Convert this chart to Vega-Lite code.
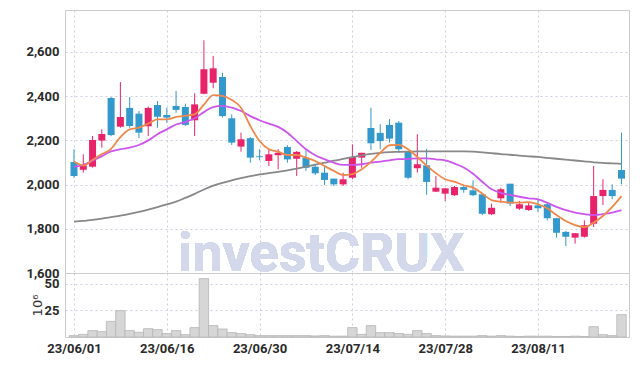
{
  "$schema": "https://vega.github.io/schema/vega-lite/v6.json",
  "padding": {"left": 25, "top": 9, "right": 5, "bottom": 5},
  "background": "white",
  "spacing": 0,
  "bounds": "flush",
  "config": {
    "view": {"stroke": "#cccccc", "strokeWidth": 1},
    "axis": {
      "labelFont": "Roboto",
      "labelFontSize": 13,
      "labelFontWeight": "bold",
      "labelColor": "#2a2a2a",
      "gridColor": "#cdd0e2",
      "gridDash": [2, 3],
      "gridWidth": 1,
      "ticks": false,
      "domain": false
    }
  },
  "datasets": {
    "d": [
      {"i":0,"date":"23/06/01","o":2102,"h":2160,"l":2031,"c":2039,"v":1.3,"m1":2104,"m2":2080,"m3":1832},
      {"i":1,"date":"23/06/02","o":2067,"h":2137,"l":2054,"c":2087,"v":2.5,"m1":2086,"m2":2089,"m3":1836},
      {"i":2,"date":"23/06/05","o":2081,"h":2220,"l":2077,"c":2202,"v":6,"m1":2112,"m2":2108,"m3":1840},
      {"i":3,"date":"23/06/07","o":2199,"h":2250,"l":2167,"c":2229,"v":5,"m1":2138,"m2":2129,"m3":1846},
      {"i":4,"date":"23/06/08","o":2392,"h":2396,"l":2219,"c":2224,"v":14.7,"m1":2162,"m2":2150,"m3":1853},
      {"i":5,"date":"23/06/09","o":2262,"h":2464,"l":2257,"c":2306,"v":24.7,"m1":2215,"m2":2160,"m3":1860},
      {"i":6,"date":"23/06/12","o":2347,"h":2396,"l":2257,"c":2265,"v":6,"m1":2250,"m2":2167,"m3":1868},
      {"i":7,"date":"23/06/13","o":2321,"h":2333,"l":2210,"c":2235,"v":4.4,"m1":2258,"m2":2179,"m3":1877},
      {"i":8,"date":"23/06/14","o":2264,"h":2353,"l":2220,"c":2347,"v":7.8,"m1":2276,"m2":2200,"m3":1887},
      {"i":9,"date":"23/06/15","o":2360,"h":2378,"l":2257,"c":2307,"v":6.9,"m1":2295,"m2":2228,"m3":1898},
      {"i":10,"date":"23/06/16","o":2315,"h":2348,"l":2280,"c":2303,"v":3.2,"m1":2295,"m2":2250,"m3":1910},
      {"i":11,"date":"23/06/19","o":2356,"h":2424,"l":2325,"c":2338,"v":6,"m1":2306,"m2":2272,"m3":1923},
      {"i":12,"date":"23/06/20","o":2351,"h":2366,"l":2265,"c":2270,"v":2.2,"m1":2312,"m2":2283,"m3":1940},
      {"i":13,"date":"23/06/21","o":2291,"h":2413,"l":2220,"c":2363,"v":8.8,"m1":2318,"m2":2300,"m3":1958},
      {"i":14,"date":"23/06/22","o":2411,"h":2653,"l":2409,"c":2522,"v":54.7,"m1":2362,"m2":2328,"m3":1978},
      {"i":15,"date":"23/06/23","o":2461,"h":2582,"l":2436,"c":2526,"v":10.7,"m1":2405,"m2":2351,"m3":1995},
      {"i":16,"date":"23/06/26","o":2487,"h":2506,"l":2303,"c":2310,"v":7.5,"m1":2401,"m2":2356,"m3":2008},
      {"i":17,"date":"23/06/27","o":2300,"h":2318,"l":2179,"c":2190,"v":4.1,"m1":2383,"m2":2348,"m3":2019},
      {"i":18,"date":"23/06/28","o":2172,"h":2235,"l":2149,"c":2205,"v":3.2,"m1":2348,"m2":2333,"m3":2029},
      {"i":19,"date":"23/06/29","o":2210,"h":2215,"l":2099,"c":2122,"v":2.2,"m1":2265,"m2":2310,"m3":2038},
      {"i":20,"date":"23/06/30","o":2128,"h":2160,"l":2110,"c":2124,"v":1.3,"m1":2197,"m2":2291,"m3":2046},
      {"i":21,"date":"23/07/03","o":2107,"h":2160,"l":2084,"c":2137,"v":1.3,"m1":2160,"m2":2276,"m3":2052},
      {"i":22,"date":"23/07/04","o":2133,"h":2160,"l":2069,"c":2144,"v":1.3,"m1":2149,"m2":2261,"m3":2058},
      {"i":23,"date":"23/07/05","o":2170,"h":2178,"l":2099,"c":2114,"v":1.3,"m1":2134,"m2":2235,"m3":2064},
      {"i":24,"date":"23/07/06","o":2117,"h":2152,"l":2039,"c":2148,"v":1.3,"m1":2134,"m2":2197,"m3":2072},
      {"i":25,"date":"23/07/07","o":2122,"h":2155,"l":2062,"c":2076,"v":1.3,"m1":2122,"m2":2160,"m3":2081},
      {"i":26,"date":"23/07/10","o":2081,"h":2092,"l":2043,"c":2051,"v":1,"m1":2107,"m2":2133,"m3":2090},
      {"i":27,"date":"23/07/11","o":2054,"h":2084,"l":1998,"c":2021,"v":1.3,"m1":2084,"m2":2115,"m3":2099},
      {"i":28,"date":"23/07/12","o":2027,"h":2027,"l":1994,"c":2001,"v":0.8,"m1":2062,"m2":2099,"m3":2108},
      {"i":29,"date":"23/07/13","o":2001,"h":2054,"l":1994,"c":2024,"v":0.8,"m1":2043,"m2":2089,"m3":2116},
      {"i":30,"date":"23/07/14","o":2031,"h":2182,"l":2024,"c":2125,"v":8.8,"m1":2047,"m2":2089,"m3":2124},
      {"i":31,"date":"23/07/17","o":2122,"h":2144,"l":2076,"c":2144,"v":2.5,"m1":2069,"m2":2092,"m3":2132},
      {"i":32,"date":"23/07/18","o":2256,"h":2348,"l":2157,"c":2187,"v":10.7,"m1":2103,"m2":2099,"m3":2139},
      {"i":33,"date":"23/07/19","o":2234,"h":2273,"l":2160,"c":2197,"v":4.1,"m1":2144,"m2":2104,"m3":2144},
      {"i":34,"date":"23/07/20","o":2270,"h":2296,"l":2190,"c":2208,"v":4.1,"m1":2178,"m2":2110,"m3":2147},
      {"i":35,"date":"23/07/21","o":2280,"h":2288,"l":2144,"c":2160,"v":3.2,"m1":2180,"m2":2115,"m3":2148},
      {"i":36,"date":"23/07/24","o":2148,"h":2152,"l":2024,"c":2031,"v":2.5,"m1":2160,"m2":2116,"m3":2149},
      {"i":37,"date":"23/07/25","o":2074,"h":2228,"l":2054,"c":2092,"v":6,"m1":2125,"m2":2119,"m3":2150},
      {"i":38,"date":"23/07/26","o":2087,"h":2162,"l":1954,"c":2012,"v":3.2,"m1":2086,"m2":2119,"m3":2150},
      {"i":39,"date":"23/07/27","o":1968,"h":2039,"l":1967,"c":1986,"v":1.3,"m1":2052,"m2":2114,"m3":2150},
      {"i":40,"date":"23/07/28","o":1959,"h":1983,"l":1926,"c":1983,"v":1,"m1":2024,"m2":2110,"m3":2150},
      {"i":41,"date":"23/07/31","o":1952,"h":1994,"l":1948,"c":1989,"v":0.8,"m1":2013,"m2":2095,"m3":2150},
      {"i":42,"date":"23/08/01","o":1989,"h":1994,"l":1963,"c":1976,"v":0.8,"m1":1997,"m2":2077,"m3":2150},
      {"i":43,"date":"23/08/02","o":1974,"h":2019,"l":1948,"c":1952,"v":0.8,"m1":1986,"m2":2049,"m3":2149},
      {"i":44,"date":"23/08/03","o":1956,"h":1963,"l":1862,"c":1868,"v":1.3,"m1":1959,"m2":2013,"m3":2146},
      {"i":45,"date":"23/08/04","o":1866,"h":1914,"l":1862,"c":1895,"v":0.8,"m1":1930,"m2":1979,"m3":2142},
      {"i":46,"date":"23/08/07","o":1938,"h":1986,"l":1918,"c":1979,"v":1.3,"m1":1923,"m2":1963,"m3":2138},
      {"i":47,"date":"23/08/08","o":2004,"h":2004,"l":1903,"c":1914,"v":0.8,"m1":1918,"m2":1953,"m3":2135},
      {"i":48,"date":"23/08/09","o":1891,"h":1926,"l":1885,"c":1911,"v":0.5,"m1":1918,"m2":1945,"m3":2131},
      {"i":49,"date":"23/08/10","o":1885,"h":1921,"l":1881,"c":1906,"v":0.8,"m1":1921,"m2":1938,"m3":2128},
      {"i":50,"date":"23/08/11","o":1906,"h":1936,"l":1877,"c":1893,"v":0.8,"m1":1911,"m2":1933,"m3":2125},
      {"i":51,"date":"23/08/14","o":1911,"h":1918,"l":1838,"c":1848,"v":0.8,"m1":1893,"m2":1918,"m3":2121},
      {"i":52,"date":"23/08/16","o":1848,"h":1850,"l":1760,"c":1782,"v":0.5,"m1":1862,"m2":1899,"m3":2117},
      {"i":53,"date":"23/08/17","o":1786,"h":1790,"l":1722,"c":1764,"v":0.5,"m1":1835,"m2":1884,"m3":2113},
      {"i":54,"date":"23/08/18","o":1760,"h":1780,"l":1733,"c":1780,"v":0.8,"m1":1817,"m2":1873,"m3":2109},
      {"i":55,"date":"23/08/21","o":1764,"h":1838,"l":1760,"c":1816,"v":0.5,"m1":1808,"m2":1866,"m3":2105},
      {"i":56,"date":"23/08/22","o":1823,"h":2084,"l":1808,"c":1948,"v":9.7,"m1":1828,"m2":1862,"m3":2101},
      {"i":57,"date":"23/08/23","o":1948,"h":2024,"l":1908,"c":1976,"v":2.2,"m1":1858,"m2":1866,"m3":2098},
      {"i":58,"date":"23/08/24","o":1976,"h":2001,"l":1934,"c":1948,"v":1.3,"m1":1899,"m2":1873,"m3":2096},
      {"i":59,"date":"23/08/25","o":2066,"h":2235,"l":2001,"c":2027,"v":21,"m1":1948,"m2":1884,"m3":2094}
    ]
  },
  "vconcat": [
    {
      "width": 564,
      "height": 263,
      "data": {"name": "d"},
      "encoding": {
        "x": {
          "field": "i", "type": "quantitative",
          "scale": {"domain": [-0.43, 59.27], "nice": false, "zero": false},
          "axis": {"values": [0, 10, 20, 30, 40, 50], "labels": false, "title": null, "grid": true}
        }
      },
      "layer": [
        {
          "mark": {"type": "text", "text": "investCRUX", "align": "left", "baseline": "alphabetic", "font": "Roboto", "fontWeight": "bold", "fontSize": 54, "color": "#d3d8ea"},
          "encoding": {
            "x": {"datum": 11.2, "type": "quantitative"},
            "y": {"datum": 1608, "type": "quantitative"}
          }
        },
        {
          "mark": {"type": "rule", "strokeWidth": 1},
          "encoding": {
            "y": {
              "field": "l", "type": "quantitative",
              "scale": {"domain": [1600, 2790], "nice": false, "zero": false},
              "axis": {"values": [1600, 1800, 2000, 2200, 2400, 2600], "format": ",d", "title": null, "labelPadding": 6, "grid": true}
            },
            "y2": {"field": "h"},
            "color": {"condition": {"test": "datum.c >= datum.o", "value": "#e8236a"}, "value": "#3399cc"}
          }
        },
        {
          "mark": {"type": "bar", "size": 7},
          "encoding": {
            "y": {"field": "o", "type": "quantitative"},
            "y2": {"field": "c"},
            "color": {"condition": {"test": "datum.c >= datum.o", "value": "#e8236a"}, "value": "#3399cc"}
          }
        },
        {
          "mark": {"type": "line", "color": "#888888", "strokeWidth": 1.8, "interpolate": "monotone"},
          "encoding": {"y": {"field": "m3", "type": "quantitative"}}
        },
        {
          "mark": {"type": "line", "color": "#cc55ee", "strokeWidth": 1.8, "interpolate": "monotone"},
          "encoding": {"y": {"field": "m2", "type": "quantitative"}}
        },
        {
          "mark": {"type": "line", "color": "#f0884c", "strokeWidth": 1.8, "interpolate": "monotone"},
          "encoding": {"y": {"field": "m1", "type": "quantitative"}}
        }
      ]
    },
    {
      "width": 564,
      "height": 64,
      "data": {"name": "d"},
      "mark": {"type": "bar", "size": 9.4, "fill": "#d6d6d6", "stroke": "#b5b5b5", "strokeWidth": 0.8},
      "encoding": {
        "x": {
          "field": "i", "type": "quantitative",
          "scale": {"domain": [-0.43, 59.27], "nice": false, "zero": false},
          "axis": {
            "values": [0, 10, 20, 30, 40, 50],
            "labelExpr": "['23/06/01','23/06/16','23/06/30','23/07/14','23/07/28','23/08/11'][round(datum.value/10)]",
            "title": null, "grid": true, "labelPadding": 5
          }
        },
        "y": {
          "field": "v", "type": "quantitative",
          "scale": {"domain": [0, 60], "nice": false},
          "axis": {"values": [25, 50], "title": "10⁶", "titleFont": "DejaVu Sans", "titleFontSize": 13, "titleFontWeight": "normal", "titleColor": "#333333", "titlePadding": 0, "labelPadding": 6, "grid": true}
        }
      }
    }
  ]
}
